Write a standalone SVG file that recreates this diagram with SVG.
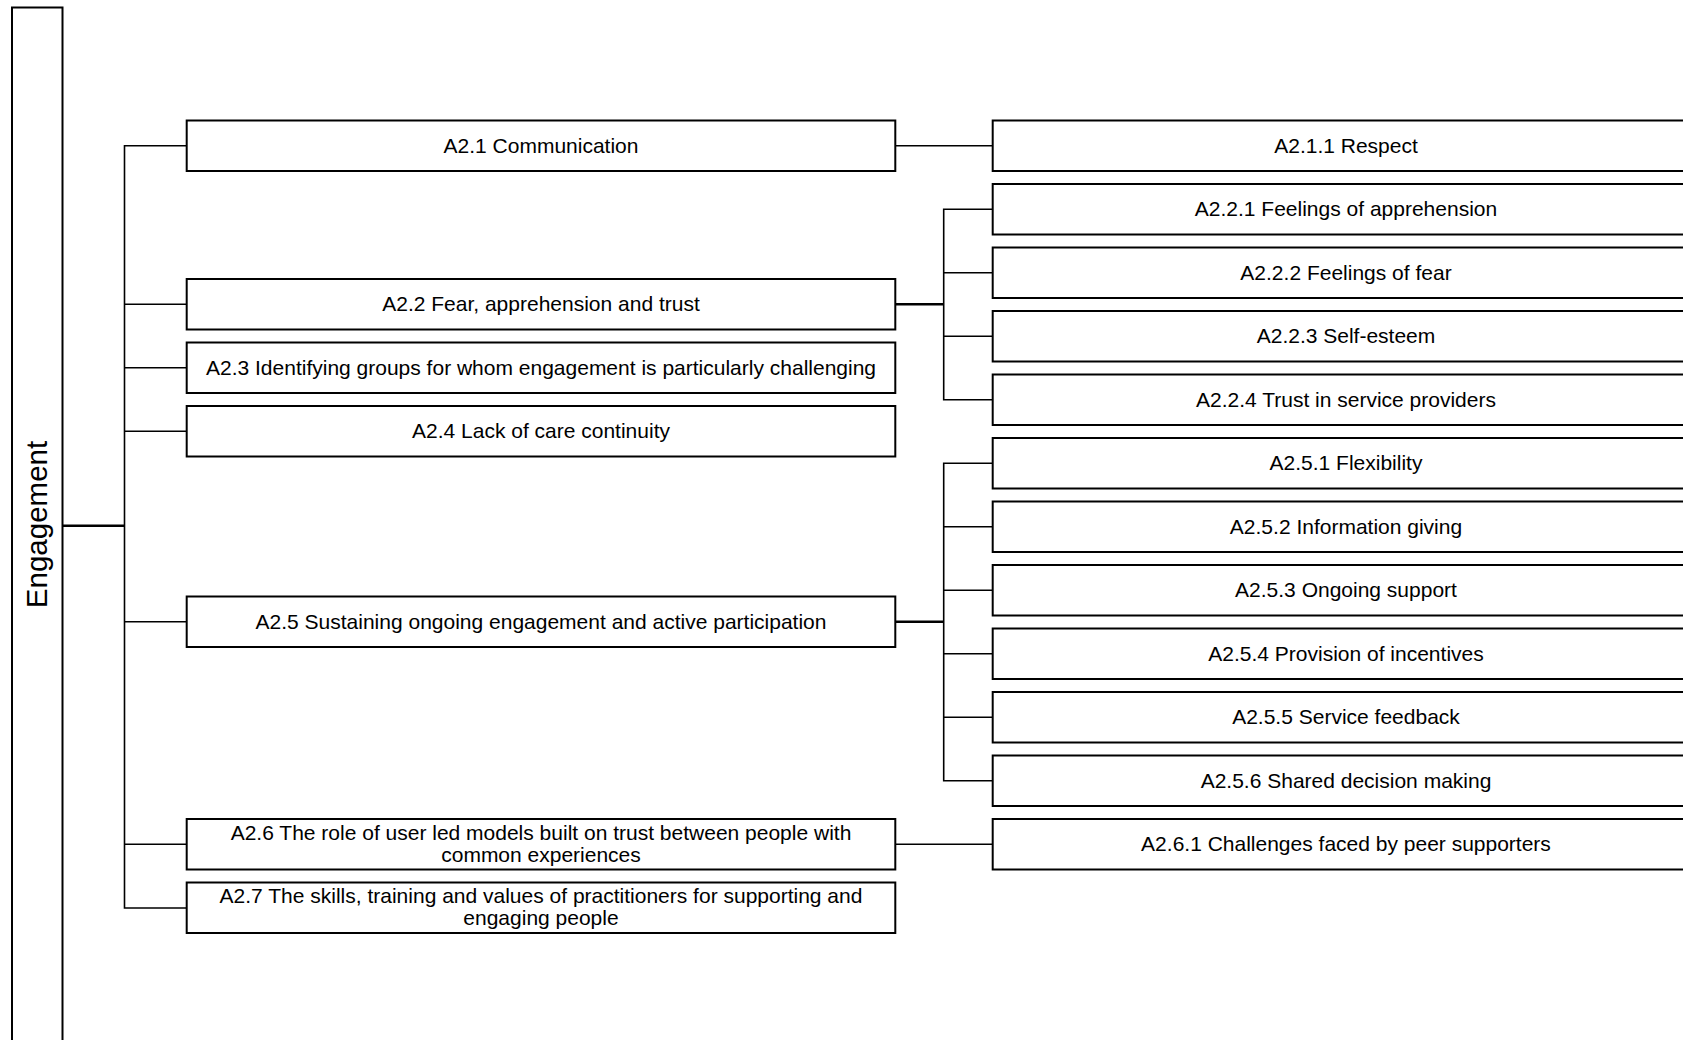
<svg xmlns="http://www.w3.org/2000/svg" width="1683" height="1040" viewBox="0 0 1683 1040">
<style>
  .box { fill: #ffffff; stroke: #000000; stroke-width: 2; }
  .t { font-family: "Liberation Sans", Arial, sans-serif; font-size: 21px; fill: #000000; text-anchor: middle; }
  .root { font-family: "Liberation Sans", Arial, sans-serif; font-size: 29.5px; fill: #000000; text-anchor: middle; }
  .c { fill: none; stroke: #000000; stroke-width: 1.6; }
  .ct { fill: none; stroke: #000000; stroke-width: 2.6; }
</style>
<rect x="0" y="0" width="1683" height="1040" fill="#ffffff"/>

<g id="connectors">
  <line class="ct" x1="62.5" y1="525.7" x2="124.5" y2="525.7"/>
  <path class="c" d="M186.7,145.75 H124.5 V908 H186.7"/>
  <line class="c" x1="124.5" y1="304.25" x2="186.7" y2="304.25"/>
  <line class="c" x1="124.5" y1="367.75" x2="186.7" y2="367.75"/>
  <line class="c" x1="124.5" y1="431.25" x2="186.7" y2="431.25"/>
  <line class="c" x1="124.5" y1="621.75" x2="186.7" y2="621.75"/>
  <line class="c" x1="124.5" y1="844.25" x2="186.7" y2="844.25"/>

  <line class="c" x1="895.3" y1="145.75" x2="992.7" y2="145.75"/>

  <line class="ct" x1="895.3" y1="304.25" x2="943.7" y2="304.25"/>
  <path class="c" d="M992.7,209.25 H943.7 V399.75 H992.7"/>
  <line class="c" x1="943.7" y1="272.75" x2="992.7" y2="272.75"/>
  <line class="c" x1="943.7" y1="336.25" x2="992.7" y2="336.25"/>

  <line class="ct" x1="895.3" y1="621.75" x2="943.7" y2="621.75"/>
  <path class="c" d="M992.7,463.25 H943.7 V780.75 H992.7"/>
  <line class="c" x1="943.7" y1="526.75" x2="992.7" y2="526.75"/>
  <line class="c" x1="943.7" y1="590.25" x2="992.7" y2="590.25"/>
  <line class="c" x1="943.7" y1="653.75" x2="992.7" y2="653.75"/>
  <line class="c" x1="943.7" y1="717.25" x2="992.7" y2="717.25"/>

  <line class="c" x1="895.3" y1="844.25" x2="992.7" y2="844.25"/>
</g>

<g id="engagement">
  <rect class="box" x="12" y="7.5" width="50.5" height="1045"/>
  <text class="root" transform="translate(46.5,524.5) rotate(-90)">Engagement</text>
</g>

<g id="a2-1">
  <rect class="box" x="186.7" y="120.5" width="708.6" height="50.5"/>
  <text class="t" x="541" y="152.5">A2.1 Communication</text>
</g>
<g id="a2-2">
  <rect class="box" x="186.7" y="279" width="708.6" height="50.5"/>
  <text class="t" x="541" y="311">A2.2 Fear, apprehension and trust</text>
</g>
<g id="a2-3">
  <rect class="box" x="186.7" y="342.5" width="708.6" height="50.5"/>
  <text class="t" x="541" y="374.5">A2.3 Identifying groups for whom engagement is particularly challenging</text>
</g>
<g id="a2-4">
  <rect class="box" x="186.7" y="406" width="708.6" height="50.5"/>
  <text class="t" x="541" y="438">A2.4 Lack of care continuity</text>
</g>
<g id="a2-5">
  <rect class="box" x="186.7" y="596.5" width="708.6" height="50.5"/>
  <text class="t" x="541" y="628.5">A2.5 Sustaining ongoing engagement and active participation</text>
</g>
<g id="a2-6">
  <rect class="box" x="186.7" y="819" width="708.6" height="50.5"/>
  <text class="t" x="541" y="839.5">A2.6 The role of user led models built on trust between people with</text>
  <text class="t" x="541" y="861.5">common experiences</text>
</g>
<g id="a2-7">
  <rect class="box" x="186.7" y="882.5" width="708.6" height="50.5"/>
  <text class="t" x="541" y="903">A2.7 The skills, training and values of practitioners for supporting and</text>
  <text class="t" x="541" y="925">engaging people</text>
</g>

<g id="a2-1-1">
  <rect class="box" x="992.7" y="120.5" width="706" height="50.5"/>
  <text class="t" x="1346" y="152.5">A2.1.1 Respect</text>
</g>
<g id="a2-2-1">
  <rect class="box" x="992.7" y="184" width="706" height="50.5"/>
  <text class="t" x="1346" y="216">A2.2.1 Feelings of apprehension</text>
</g>
<g id="a2-2-2">
  <rect class="box" x="992.7" y="247.5" width="706" height="50.5"/>
  <text class="t" x="1346" y="279.5">A2.2.2 Feelings of fear</text>
</g>
<g id="a2-2-3">
  <rect class="box" x="992.7" y="311" width="706" height="50.5"/>
  <text class="t" x="1346" y="343">A2.2.3 Self-esteem</text>
</g>
<g id="a2-2-4">
  <rect class="box" x="992.7" y="374.5" width="706" height="50.5"/>
  <text class="t" x="1346" y="406.5">A2.2.4 Trust in service providers</text>
</g>
<g id="a2-5-1">
  <rect class="box" x="992.7" y="438" width="706" height="50.5"/>
  <text class="t" x="1346" y="470">A2.5.1 Flexibility</text>
</g>
<g id="a2-5-2">
  <rect class="box" x="992.7" y="501.5" width="706" height="50.5"/>
  <text class="t" x="1346" y="533.5">A2.5.2 Information giving</text>
</g>
<g id="a2-5-3">
  <rect class="box" x="992.7" y="565" width="706" height="50.5"/>
  <text class="t" x="1346" y="597">A2.5.3 Ongoing support</text>
</g>
<g id="a2-5-4">
  <rect class="box" x="992.7" y="628.5" width="706" height="50.5"/>
  <text class="t" x="1346" y="660.5">A2.5.4 Provision of incentives</text>
</g>
<g id="a2-5-5">
  <rect class="box" x="992.7" y="692" width="706" height="50.5"/>
  <text class="t" x="1346" y="724">A2.5.5 Service feedback</text>
</g>
<g id="a2-5-6">
  <rect class="box" x="992.7" y="755.5" width="706" height="50.5"/>
  <text class="t" x="1346" y="787.5">A2.5.6 Shared decision making</text>
</g>
<g id="a2-6-1">
  <rect class="box" x="992.7" y="819" width="706" height="50.5"/>
  <text class="t" x="1346" y="851">A2.6.1 Challenges faced by peer supporters</text>
</g>
</svg>
